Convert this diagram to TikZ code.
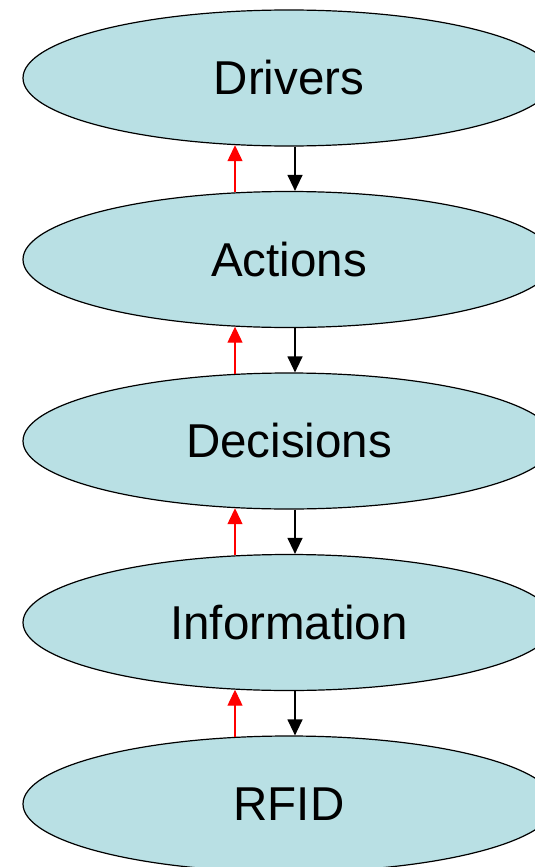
\documentclass[tikz,border=0pt]{standalone}
\usepackage{fontspec}
\setmainfont{Liberation Sans}
\usetikzlibrary{shapes.geometric,arrows.meta}
\definecolor{ellfill}{RGB}{185,224,228}
\begin{document}
\begin{tikzpicture}[x=1pt,y=1pt,
  ell/.style={ellipse,draw=black,line width=1.2pt,fill=ellfill,minimum width=532pt,minimum height=136pt,inner sep=0pt,font=\fontsize{47.5}{52}\selectfont},
  uparrow/.style={draw=red,line width=1.25pt,-{Triangle[length=16pt,width=15pt]}},
  downarrow/.style={draw=black,line width=1.25pt,-{Triangle[length=16pt,width=15pt]}}]
\useasboundingbox (0,0) rectangle (535,-867);
\begin{scope}
\clip (0,0) rectangle (535,-867);
\node[ell] (drv) at (289,-78) {Drivers};
\node[ell] (act) at (289,-259.5) {Actions};
\node[ell] (dec) at (289,-441) {Decisions};
\node[ell] (inf) at (289,-622.5) {Information};
\node[ell] (rfid) at (289,-804) {RFID};
\foreach \a/\b in {drv/act,act/dec,dec/inf,inf/rfid}{
  \draw[uparrow] ([xshift=-54pt,yshift=-1.4pt]\b.north) -- ([xshift=-54pt,yshift=1.4pt]\a.south);
  \draw[downarrow] ([xshift=6pt]\a.south) -- ([xshift=6pt]\b.north);
}
\end{scope}
\end{tikzpicture}
\end{document}
